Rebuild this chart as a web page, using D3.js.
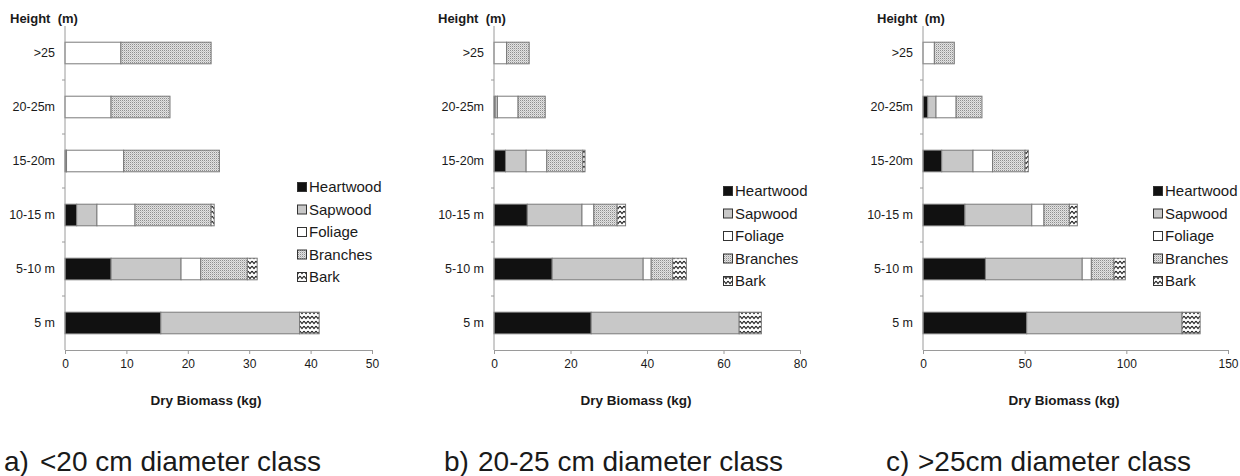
<!DOCTYPE html>
<html><head><meta charset="utf-8">
<script src="https://cdn.jsdelivr.net/npm/d3@7"></script>
<style>body{margin:0;background:#fff}svg{display:block;font-family:"Liberation Sans",Arial,sans-serif}</style>
</head><body><svg id="c" width="1240" height="476"></svg>
<script>
// ---------- data ----------
const heightClasses = [">25", "20-25m", "15-20m", "10-15 m", "5-10 m", "5 m"];
const components = ["Heartwood", "Sapwood", "Foliage", "Branches", "Bark"];

// a) <20 cm diameter class
const aHeartwood = [0, 0, 0.15, 1.9, 7.5, 15.6];
const aSapwood   = [0, 0, 0.1, 3.3, 11.4, 22.6];
const aFoliage   = [9.1, 7.5, 9.3, 6.2, 3.2, 0];
const aBranches  = [14.7, 9.6, 15.6, 12.4, 7.6, 0];
const aBark      = [0, 0, 0, 0.5, 1.6, 3.2];

// b) 20-25 cm diameter class
const bHeartwood = [0, 0.3, 3.0, 8.7, 15.2, 25.4];
const bSapwood   = [0, 0.6, 5.4, 14.3, 23.8, 38.7];
const bFoliage   = [3.3, 5.4, 5.4, 3.1, 2.1, 0];
const bBranches  = [5.9, 7.1, 9.4, 6.1, 5.6, 0];
const bBark      = [0, 0, 0.6, 2.2, 3.6, 5.8];

// c) >25cm diameter class
const cHeartwood = [0, 2.3, 9.2, 20.6, 30.7, 51.0];
const cSapwood   = [0, 4.1, 15.4, 32.9, 47.6, 76.4];
const cFoliage   = [5.6, 9.9, 9.6, 6.0, 4.5, 0];
const cBranches  = [9.8, 12.7, 16.0, 12.5, 11.1, 0];
const cBark      = [0, 0, 1.6, 3.9, 5.6, 8.9];

const xTicksA = [0, 10, 20, 30, 40, 50];
const xTicksB = [0, 20, 40, 60, 80];
const xTicksC = [0, 50, 100, 150];

const captionLetters = ["a)", "b)", "c)"];
const captionTexts = ["<20 cm diameter class", "20-25 cm diameter class", ">25cm diameter class"];
const yTitle = "Height  (m)";
const xTitle = "Dry Biomass (kg)";

// ---------- layout ----------
const panels = [
  {series: [aHeartwood, aSapwood, aFoliage, aBranches, aBark], ticks: xTicksA,
   x0: 65, x1: 372, titleX: 10, xTitleX: 206, legX: 297, legY: 187, capX: 4, capTextX: 40},
  {series: [bHeartwood, bSapwood, bFoliage, bBranches, bBark], ticks: xTicksB,
   x0: 494, x1: 800, titleX: 438, xTitleX: 636, legX: 723, legY: 191, capX: 444, capTextX: 478},
  {series: [cHeartwood, cSapwood, cFoliage, cBranches, cBark], ticks: xTicksC,
   x0: 923, x1: 1228, titleX: 877, xTitleX: 1064, legX: 1153, legY: 191, capX: 886, capTextX: 918}
];

const svg = d3.select("#c");
const defs = svg.append("defs");

// Branches: fine grey stipple
const pb = defs.append("pattern").attr("id", "pBranches").attr("patternUnits", "userSpaceOnUse")
  .attr("width", 2).attr("height", 2);
pb.append("rect").attr("width", 2).attr("height", 2).attr("fill", "#e2e2e2");
pb.append("rect").attr("width", 1).attr("height", 1).attr("fill", "#8e8e8e");
pb.append("rect").attr("x", 1).attr("y", 1).attr("width", 1).attr("height", 1).attr("fill", "#c4c4c4");

// Bark: black zigzag on white
const pk = defs.append("pattern").attr("id", "pBark").attr("patternUnits", "userSpaceOnUse")
  .attr("width", 4).attr("height", 5);
pk.append("rect").attr("width", 4).attr("height", 5).attr("fill", "#fff");
pk.append("path").attr("d", "M0,1 L2,3.5 L4,1").attr("fill", "none")
  .attr("stroke", "#222").attr("stroke-width", 1.1);

const fills = {Heartwood: "#111", Sapwood: "#c8c8c8", Foliage: "#fff",
               Branches: "url(#pBranches)", Bark: "url(#pBark)"};

const axisColor = "#9a9a9a";
const textColor = "#1a1a1a";

const y = d3.scaleBand().domain(heightClasses).range([26, 350])
  .paddingInner(0.6).paddingOuter(0.3);

panels.forEach((p, pi) => {
  const g = svg.append("g");
  const rows = heightClasses.map((h, i) => {
    const r = {cls: h};
    components.forEach((c, k) => r[c] = p.series[k][i]);
    return r;
  });
  const stacked = d3.stack().keys(components)(rows);
  const x = d3.scaleLinear().domain([0, d3.max(p.ticks)]).range([p.x0, p.x1]);

  // bars
  stacked.forEach(layer => {
    g.append("g").selectAll("rect").data(layer.filter(d => d[1] - d[0] > 0)).join("rect")
      .attr("x", d => x(d[0]))
      .attr("y", d => y(d.data.cls))
      .attr("width", d => x(d[1]) - x(d[0]))
      .attr("height", y.bandwidth())
      .attr("fill", fills[layer.key])
      .attr("stroke", "#7a7a7a").attr("stroke-width", 1);
  });

  // y axis: line + boundary ticks + labels
  const half = y.step() * y.paddingInner() / 2;
  g.append("line").attr("x1", p.x0).attr("x2", p.x0).attr("y1", 26).attr("y2", 350)
    .attr("stroke", axisColor);
  g.append("g").selectAll("line").data(heightClasses.slice(1)).join("line")
    .attr("x1", p.x0 - 3).attr("x2", p.x0)
    .attr("y1", d => y(d) - half).attr("y2", d => y(d) - half)
    .attr("stroke", axisColor);
  g.append("g").selectAll("text").data(heightClasses).join("text")
    .attr("x", p.x0 - 10).attr("y", d => y(d) + y.bandwidth() / 2)
    .attr("dy", "0.35em").attr("text-anchor", "end")
    .attr("font-size", 12.5).attr("fill", textColor).text(d => d);

  // x axis
  const xa = g.append("g").attr("transform", "translate(0,350)")
    .call(d3.axisBottom(x).tickValues(p.ticks).tickSize(4).tickSizeOuter(0).tickPadding(5));
  xa.select(".domain").attr("stroke", axisColor);
  xa.selectAll(".tick line").attr("stroke", axisColor);
  xa.selectAll(".tick text").attr("font-size", 12).attr("fill", textColor)
    .attr("font-family", "Liberation Sans, Arial, sans-serif");

  // titles
  g.append("text").attr("x", p.titleX).attr("y", 23).attr("font-size", 13)
    .attr("font-weight", "bold").attr("fill", textColor).attr("xml:space", "preserve")
    .style("white-space", "pre").text(yTitle);
  g.append("text").attr("x", p.xTitleX).attr("y", 405).attr("text-anchor", "middle")
    .attr("font-size", 13.5).attr("font-weight", "bold").attr("fill", textColor).text(xTitle);

  // legend
  const lg = g.append("g");
  components.forEach((c, k) => {
    const cy = p.legY + k * 22.5;
    lg.append("rect").attr("x", p.legX + 0.5).attr("y", cy - 4.5).attr("width", 9).attr("height", 9)
      .attr("fill", fills[c]).attr("stroke", "#333").attr("stroke-width", 1);
    lg.append("text").attr("x", p.legX + 12).attr("y", cy).attr("dy", "0.36em")
      .attr("font-size", 15).attr("fill", textColor).text(c);
  });

  // caption
  g.append("text").attr("x", p.capX).attr("y", 471).attr("font-size", 28)
    .attr("fill", textColor).text(captionLetters[pi]);
  g.append("text").attr("x", p.capTextX).attr("y", 471).attr("font-size", 28)
    .attr("fill", textColor).text(captionTexts[pi]);
});
</script></body></html>
